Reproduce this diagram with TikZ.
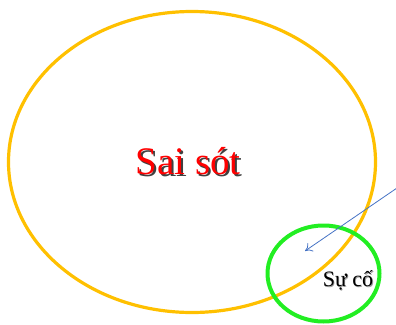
\documentclass[tikz,border=0pt]{standalone}
\usepackage{fontspec}
\setmainfont{Liberation Serif}
\usetikzlibrary{shapes.geometric,arrows.meta}
\definecolor{ringyellow}{HTML}{FFC000}
\definecolor{ringgreen}{HTML}{22EE22}
\definecolor{arrowblue}{HTML}{4472C4}
% #1 text, #2 offset, #3 shadow colour, #4 text colour
\newcommand{\shadowtext}[4]{\rlap{\hspace{#2}\raisebox{-#2}{\textcolor{#3}{#1}}}\textcolor{#4}{#1}}
\tikzset{
  ring/.style={ellipse, draw, inner sep=0pt},
  bigtext/.style={font=\fontsize{39}{44}\selectfont, inner sep=0pt},
  smalltext/.style={font=\fontsize{22}{26}\selectfont, inner sep=0pt},
  pointer/.style={draw=arrowblue, line width=0.8pt, -{To[length=7pt,width=10pt]}}
}
\begin{document}
\begin{tikzpicture}[x=1pt,y=-1pt]
\useasboundingbox (0,0) rectangle (396,324);
\node[ring, draw=ringyellow, line width=3.2pt, minimum width=367pt, minimum height=301pt] (sai) at (192,162) {};
\node[ring, draw=ringgreen, line width=4pt, minimum width=112pt, minimum height=96pt] (su) at (323.5,273.5) {};
\node[bigtext] (saitext) at (188,162) {\shadowtext{Sai sót}{2pt}{black!75}{red}};
\node[smalltext] (sutext) at (348,281) {\shadowtext{Sự cố}{0.8pt}{black!40}{black}};
\coordinate (arrstart) at (397,188);
\coordinate (arrend) at (305,251);
\draw[pointer] (arrstart) -- (arrend);
\end{tikzpicture}
\end{document}
